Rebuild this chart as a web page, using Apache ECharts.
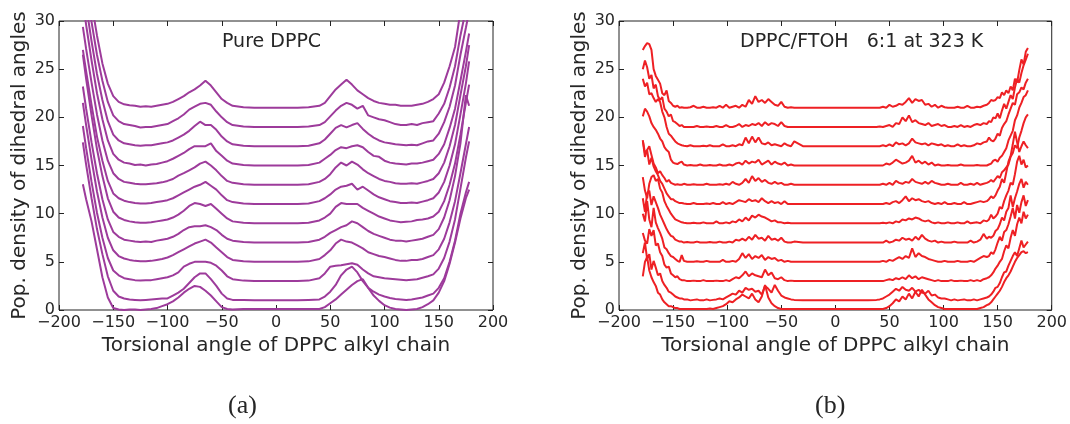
<!DOCTYPE html>
<html><head><meta charset="utf-8">
<script src="https://cdn.jsdelivr.net/npm/echarts@6/dist/echarts.min.js"></script>
<style>html,body{margin:0;padding:0;background:#fff}#c{width:1070px;height:424px}</style>
</head><body><div id="c"></div>
<script>
// ---------- (a) Pure DPPC: torsion angle grid (degrees) ----------
const angles = [-178,-175,-170,-165,-160,-155,-150,-145,-140,-135,-130,-125,-120,-115,-110,-105,-100,-95,-90,-85,-80,-75,-70,-65,-60,-55,-50,-45,-40,-30,-20,-10,0,10,20,30,40,45,50,55,60,65,70,75,80,85,90,95,100,105,110,115,120,125,130,135,140,145,150,155,160,165,170,175,178];

// stacked population densities (as plotted)
const pure21 = [38,35.6,31.9,28.5,25.6,23.5,22.2,21.6,21.35, 21.25,21.2,21.1,21.15,21.1,21.2,21.3, 21.4,21.6,21.9,22.2,22.6,22.9,23.3,23.8,23.3,22.6,21.9,21.5,21.2, 21.05,21,21,21,21,21,21.05, 21.2,21.5,22.2,22.9,23.4,23.9,23.4,22.8,22.4,22,21.7,21.5,21.4, 21.3,21.3,21.2,21.2,21.2,21.3,21.4,21.6, 21.9,22.4,23.6,25.3,27.3,31,33.5,35];
const pure19 = [36,33.6,29.9,26.5,23.8,21.6,20.2,19.6,19.3, 19.2,19.1,18.95,19,19,19.1,19.2, 19.3,19.6,19.9,20.3,20.8,21.1,21.4,21.5,21.3,20.6,20,19.5,19.2, 19.05,19,19,19,19,19,19.05, 19.2,19.5,20.1,20.7,21.2,21.5,21.3,20.9,21.2,20.2,20,19.8,19.7, 19.5,19.3,19.2,19.2,19.3,19.2,19.4,19.5, 19.6,20.4,21.4,23.1,25.3,28.5,31.2,33];
const pure17 = [34,31.6,27.9,24.5,21.8,19.6,18.2,17.6,17.3, 17.2,17.1,17.05,17.1,17.1,17.2,17.3, 17.4,17.6,17.9,18.2,18.6,19.1,19.55,19.2,19.2,18.7,18,17.5,17.2, 17.05,17,17,17,17,17,17.05, 17.3,17.7,18.3,18.9,19.2,18.95,19.2,19.4,18.8,18.3,17.9,17.6,17.4, 17.3,17.2,17.15,17.1,17.15,17.1,17.3,17.5, 17.6,18.3,19.5,21.1,23.3,26.5,29.3,31];
const pure15 = [32,29.6,25.9,22.5,19.8,17.6,16.2,15.6,15.3, 15.2,15.05,15.1,15,15.1,15.15,15.3, 15.45,15.7,16,16.3,16.7,17,17,17,17.3,16.5,16,15.5,15.2, 15.05,15,15,15,15,15,15.05, 15.3,15.7,16.1,16.6,16.9,16.8,17,17.1,16.9,16.4,16,15.9,15.5, 15.3,15.2,15.15,15.1,15.2,15.2,15.3,15.45, 15.6,16.2,17.2,18.9,20.9,23.8,26.8,28.7];
const pure13 = [29.4,27.1,23.6,20.3,17.6,15.5,14.2,13.6,13.3, 13.2,13.1,13.05,13.05,13.1,13.15,13.25, 13.4,13.6,13.95,14.2,14.5,14.8,15.2,15.4,15,14.5,13.9,13.4,13.2, 13.05,13,13,13,13,13,13.05, 13.3,13.6,14.1,14.8,15.3,15,15.4,15.1,14.6,14.2,13.9,13.6,13.4, 13.3,13.15,13.1,13.1,13.15,13.1,13.25,13.4, 13.6,14.2,15.3,17,19.2,22.3,25.3,27.5];
const pure11 = [27,24.8,21.3,18,15.5,13.4,12.1,11.6,11.35, 11.2,11.1,11.05,11.05,11.1,11.2,11.3, 11.4,11.6,11.9,12.2,12.5,12.8,13,13.3,12.9,12.5,11.9,11.4,11.2, 11.05,11,11,11,11,11,11.05, 11.3,11.6,12,12.5,12.8,12.9,13.1,12.5,12.8,12.4,12,11.7,11.5, 11.3,11.2,11.1,11.1,11.15,11.1,11.25,11.4, 11.6,12.2,13.3,15,17.2,20.3,23.5,25.8];
const pure9 = [26.5,24,20.2,16.7,13.9,11.6,10.2,9.6,9.35, 9.2,9.1,9.05,9.05,9.1,9.2,9.3, 9.4,9.6,9.9,10.3,10.8,11.1,11,10.8,11,10.5,10,9.5,9.2, 9.05,9,9,9,9,9,9.05, 9.3,9.6,10,10.7,11.1,11,11,11,10.6,10.3,10,9.7,9.5, 9.3,9.2,9.1,9.15,9.2,9.35,9.4,9.5, 9.7,10.2,11.3,13,15.2,18.2,21.5,23.4];
const pure7 = [23.2,20.9,17.4,14.2,11.5,9.4,8.1,7.6,7.3, 7.2,7.1,7.05,7.1,7.05,7.2,7.3, 7.4,7.6,7.9,8.3,8.6,8.7,8.7,8.8,8.6,8.3,7.8,7.4,7.2, 7.05,7,7,7,7,7,7.05, 7.3,7.6,8,8.3,8.6,8.8,9.2,9,8.6,8.2,7.9,7.7,7.5, 7.3,7.2,7.2,7.1,7.2,7.3,7.4,7.6, 7.8,8.4,9.6,11.4,13.9,17.3,22.3,21.2];
const pure5 = [21.5,19.2,15.6,12.3,9.6,7.5,6.2,5.6,5.35, 5.2,5.1,5.05,5.05,5.1,5.2,5.3, 5.45,5.7,6,6.3,6.6,6.9,7.1,7.3,7,6.5,6,5.5,5.2, 5.05,5,5,5,5,5,5.05, 5.3,5.7,6.2,6.9,7.3,7.1,7,6.7,6.4,6,5.8,5.6,5.5, 5.35,5.2,5.1,5.1,5.2,5.2,5.3,5.5, 5.7,6.3,7.4,9.1,11.3,14.2,17.2,19];
const pure3 = [19.1,16.8,13.3,10.1,7.5,5.4,4.1,3.6,3.3, 3.2,3.1,3.05,3.1,3.1,3.2,3.3, 3.4,3.6,3.9,4.5,4.8,5,5,5,4.9,4.6,4.1,3.5,3.2, 3.05,3,3,3,3,3,3.05, 3.3,3.8,4.5,4.6,4.65,4.75,4.85,4.7,4.2,3.8,3.5,3.4,3.3, 3.25,3.2,3.15,3.1,3.15,3.2,3.35,3.5, 3.7,4.3,5.4,7.1,9.4,12.6,15.8,17.5];
const pure1 = [17.4,15.1,11.6,8.4,5.8,3.5,2,1.4,1.2, 1.1,1.05,1,1.05,1.1,1.15,1.2, 1.2,1.5,1.8,2.2,2.8,3.4,3.8,3.8,3.2,2.5,1.7,1.2,1.05, 1.05,1,1,1,1,1,1.05, 1.1,1.4,1.9,2.6,3.6,4.2,4.5,3.9,3,2.3,1.9,1.6,1.4, 1.25,1.15,1.1,1.05,1.1,1.2,1.3,1.5, 1.7,2.3,3.3,5,7.2,10,12.2,13.3];
const pure0 = [13.05,11.5,9.2,6.3,3.4,1.3,0.2,0.05,0, 0.05,0.05,0,0.05,0.1,0.2,0.4, 0.6,0.9,1.3,1.8,2.2,2.5,2.4,2,1.5,0.9,0.3,0.1,0.05, 0.1,0.1,0.1,0.1,0.1,0.1,0.1, 0.1,0.3,0.7,1.1,1.6,2.1,2.6,3,3.2,2.3,1.5,0.95,0.5, 0.25,0.1,0.05,0,0.05,0.1,0.3,0.6, 1,1.8,3,4.8,7,9.5,11.6,12.5];

// ---------- (b) DPPC/FTOH 6:1 at 323 K: finer angle grid ----------
const mixAngles = [-178,-176,-174,-172,-170,-168,-166,-164,-162,-160,-158,-156,-154,-152,-150,-148,-146,-144,-142,-140, -137,-134,-131,-128,-125,-122,-119,-116,-113,-110,-107,-104,-101,-98,-95,-92,-89,-86,-83,-80,-77,-74,-71,-68,-65,-62,-59,-56,-53,-50,-47,-44,-41,-38, -30,-20,-10,0,10,20,30, 38,41,44,47,50,53,56,59,62,65,68,71,74,77,80,83,86,89,92,95,98,101,104,107,110,113,116,119,122,125,128,131,134,137, 140,142,144,146,148,150,152,154,156,158,160,162,164,166,168,170,172,174,176,178];
// vertical offsets of the stacked curves
const mixOffsets = [21,19,17,15,13,11,9,7,5,3,1,0.1];
// densities above each curve's offset
const mix21 = [6.0,6.4,6.7,6.6,6.0,4.0,3.3,2.9,2.5,1.5,1.3,1.8,0.7,0.5,0.2,0.1,0.2,0,0.05,0, 0,0.05,0.2,0,0,0.1,0,0,0.05,0,0.2,0,0.3,0,0.1,0.2,0,0.3,0.1,0.8,0.4,1.2,0.6,0.8,0.5,0.9,0.6,0.3,0.2,0.6,0.1,0,0.05,0, 0,0,0,0,0,0,0, 0,0,0.1,0,0.3,0.1,0.2,0.4,0.3,0.6,1.0,0.5,0.9,0.7,0.8,0.3,0.4,0.1,0.3,0,0.2,0.05,0,0,0,0.1,0,0,0.2,0,0,0.1,0.05,0.2, 0.3,0.5,0.8,0.7,0.8,1.1,1.0,1.6,1.3,1.8,1.5,2.2,1.8,3.0,2.6,3.9,5.0,4.5,5.8,6.2];
const mix19 = [6.0,6.9,6.2,5.0,5.4,4.0,4.4,3.2,2.8,3.1,1.9,1.6,1.1,1.3,0.6,0.5,0.3,0.1,0.2,0, 0,0,0,0.1,0,0,0.05,0,0,0.1,0,0,0.2,0,0,0.1,0.3,0,0.2,0.1,0.3,0.2,0.4,0.1,0.5,0.2,0.4,0.3,0.1,0.5,0.1,0,0,0, 0,0,0,0,0,0,0, 0,0.05,0,0.1,0.2,0,0.4,0.3,1.0,0.6,1.2,0.5,0.7,0.4,0.3,0.2,0.4,0.1,0.2,0.3,0.1,0.2,0,0,0.1,0,0.2,0,0.1,0,0.2,0.3,0.2,0.4, 0.3,0.6,0.5,1.0,0.9,1.4,0.9,1.7,2.4,1.9,2.6,3.3,2.9,4.1,5.0,4.6,5.6,6.4,7.0,7.6];
const mix17 = [7.0,6.2,6.6,5.4,5.5,5.0,4.6,4.9,4.6,3.6,3.0,2.0,1.3,1.1,0.8,0.5,0.3,0.2,0.1,0.05, 0,0.1,0,0,0,0.05,0,0.1,0,0,0,0.2,0,0,0.1,0,0.2,0.1,0.9,0.3,1.0,0.4,0.9,0.3,0.2,0.4,0.1,0.2,0.1,0,0.3,0.1,0,0.5, 0,0,0,0,0,0,0, 0,0,0.1,0,0.2,0,0.4,0.2,0.3,0.1,0.3,0.8,0.4,0.3,0.2,0.3,0.1,0.3,0.2,0.1,0.2,0,0.1,0,0,0.2,0,0.1,0,0,0.1,0.3,0.2,0.4, 0.5,0.9,0.6,0.5,0.8,1.3,1.1,1.9,2.3,2.6,3.3,3.9,4.5,4.3,5.4,5.6,6.1,5.9,6.6,7.0];
const mix15 = [5.1,5.9,5.6,5.1,4.4,4.0,3.7,3.3,2.8,2.5,1.9,1.6,1.4,0.6,0.3,0.2,0.15,0.3,0.4,0.1, 0,0.05,0,0,0.1,0,0,0.05,0,0,0.1,0,0,0.1,0,0.2,0.3,0.1,0.5,0.2,0.4,0.3,0.6,0.1,0.3,0.5,0.1,0.4,0.2,0.1,0.3,0,0.1,0, 0,0,0,0,0,0,0, 0,0,0,0.2,0.1,0.3,0.6,0.4,0.2,0.3,0.5,1.0,0.3,0.5,0.2,0.4,0.1,0.3,0,0.1,0,0,0.05,0,0,0,0.1,0,0,0,0,0.05,0,0, 0,0.1,0.2,0.5,0.6,0.4,0.8,1.0,1.4,1.8,2.6,3.1,3.6,4.7,5.2,6.0,6.5,7.1,7.3,7.8];
const mix13 = [4.6,2.9,3.6,4.0,3.1,2.2,1.8,1.2,1.4,1.0,0.7,0.3,0.5,0.2,0.1,0,0.05,0,0,0.1, 0,0,0.05,0,0,0,0.1,0,0,0,0.05,0,0.1,0,0.3,0.1,0,0.2,0.6,0.2,0.9,0.4,0.7,0.3,0.5,0.2,0.1,0.3,0.1,0.2,0,0,0.1,0, 0,0,0,0,0,0,0, 0,0,0.1,0,0.2,0,0.4,0.2,0.1,0.3,0.2,0.6,0.3,0.2,0.1,0.3,0.1,0.4,0.2,0.1,0,0,0.1,0,0,0,0.2,0,0,0.1,0,0.2,0,0.1, 0.2,0.3,0.5,0.3,0.6,0.9,0.7,1.3,1.5,1.8,2.1,2.9,3.3,4.1,3.8,4.9,5.6,6.4,7.0,7.3];
const mix11 = [6.6,5.3,5.6,4.1,4.8,3.9,3.4,3.0,2.4,2.1,1.6,1.1,0.8,0.5,0.5,0.3,0.2,0.1,0.1,0.05, 0,0,0.1,0,0,0,0.05,0,0.1,0,0,0.2,0,0.1,0,0.2,0.4,0.3,0.2,0.5,0.3,0.4,0.2,0.6,0.3,0.1,0.3,0.1,0.2,0,0.3,0,0,0, 0,0,0,0,0,0,0, 0,0,0,0.1,0,0.2,0.3,0.1,0.4,0.8,0.3,0.6,0.4,0.5,0.3,0.2,0.3,0.1,0,0.1,0,0.2,0,0,0.1,0,0,0.2,0,0,0.1,0.2,0.3,0.2, 0.3,0.5,0.8,0.6,0.9,1.4,1.8,2.6,2.2,3.3,4.4,5.0,6.2,7.5,6.4,5.4,6.0,6.5,6.1,5.8];
const mix9 = [4.8,3.4,2.6,4.1,4.8,5.0,4.4,4.6,3.6,3.2,2.3,1.8,1.4,1.0,0.7,0.4,0.3,0.2,0.1,0.05, 0,0,0.05,0,0,0.1,0,0,0,0.2,0,0,0.1,0,0.2,0.1,0.4,0.2,0.6,0.3,0.8,0.6,0.9,0.7,0.6,0.4,0.2,0.3,0.1,0.1,0,0.05,0,0, 0,0,0,0,0,0,0, 0,0,0.05,0,0.1,0,0.2,0.1,0.4,0.3,0.5,0.4,0.6,0.5,0.3,0.2,0.3,0.1,0,0.1,0,0,0.1,0,0,0.1,0,0,0.2,0,0.05,0.1,0,0.3, 0.2,0.4,0.9,0.5,0.7,1.0,1.7,1.5,2.3,2.9,3.4,4.2,4.0,5.1,6.4,7.0,6.1,6.6,5.8,6.0];
const mix7 = [4.6,3.2,5.1,5.4,3.9,4.8,4.2,3.6,2.9,2.4,1.9,1.4,1.0,0.7,0.6,0.3,0.2,0.1,0.1,0, 0.05,0,0,0.1,0,0,0,0.05,0,0,0.1,0,0,0.1,0,0.3,0.2,0.4,0.2,0.6,0.3,0.8,0.4,0.5,0.2,0.7,0.3,0.4,0.2,0.5,0.1,0,0,0.1, 0,0,0,0,0,0,0, 0,0,0,0.2,0,0.1,0.3,0.2,0.5,0.3,0.4,0.2,0.6,0.3,0.8,0.4,0.2,0.1,0.2,0,0.1,0,0,0,0.1,0,0,0,0,0.2,0,0.1,0.3,0.9, 0.4,0.6,0.5,0.7,1.2,1.4,1.9,2.6,2.3,3.2,3.6,4.9,3.7,4.6,5.3,6.1,6.6,5.7,6.3,6.0];
const mix5 = [5.0,4.2,6.3,4.4,3.6,5.6,4.1,3.5,3.0,2.4,1.5,1.3,0.9,0.6,0.5,0.3,0.1,0,0.7,0.1, 0,0,0,0.05,0,0,0.1,0,0,0,0,0.2,0,0,0.1,0,0.3,0.9,0.4,0.8,0.3,0.6,0.4,0.7,0.2,0.5,0.3,0.4,0.1,0.2,0,0.1,0,0, 0,0,0,0,0,0,0, 0,0,0.1,0,0.2,0.1,0.3,0.5,0.3,0.6,0.4,1.4,0.5,0.9,0.6,0.5,0.3,0.2,0.1,0,0,0.1,0,0,0,0.1,0,0,0,0.1,0,0.2,0.4,0.6, 0.5,0.6,1.0,0.8,1.3,2.0,2.6,2.2,3.1,3.3,3.9,4.7,5.6,4.5,5.9,5.1,6.2,6.9,5.8,6.4];
const mix3 = [5.0,4.2,3.9,5.4,4.7,5.3,3.7,3.9,3.0,2.6,1.7,1.4,1.5,0.8,0.6,0.4,0.5,0.2,0.1,0.1, 0,0,0.05,0,0,0.1,0,0,0,0.05,0,0,0.1,0,0.2,0.4,0.3,0.6,1.0,0.5,0.8,0.6,0.5,0.4,1.2,0.6,0.9,0.3,0.2,0.4,0.1,0,0.05,0, 0,0,0,0,0,0,0, 0,0,0,0.1,0.2,0.1,0.3,0.2,0.4,0.2,0.6,0.3,0.5,0.2,0.4,0.3,0.2,0.1,0,0.1,0,0,0,0.1,0,0,0.05,0,0,0.1,0,0.1,0,0.2, 0.3,0.4,0.6,0.9,1.3,1.6,2.0,2.3,3.1,3.7,3.4,4.5,5.3,4.7,5.9,6.6,6.0,7.2,6.5,6.9];
const mix1 = [4.9,6.0,4.3,4.8,3.2,4.1,3.4,2.6,2.8,2.0,1.6,1.3,0.9,0.8,0.6,0.4,0.3,0.2,0.2,0.1, 0.1,0,0.05,0.1,0,0,0.1,0,0.05,0.1,0.2,0.1,0.3,0.5,0.7,0.6,1.0,0.8,1.3,1.1,1.2,0.9,1.0,0.6,1.5,1.2,0.8,1.6,1.0,0.5,0.3,0.2,0.1,0.05, 0,0,0,0,0,0,0, 0.05,0.1,0.2,0.4,0.6,0.9,1.2,1.0,1.4,1.1,1.0,1.3,0.9,1.1,0.8,0.7,1.0,0.5,0.6,0.3,0.2,0.2,0.1,0,0.1,0,0.05,0.1,0,0,0.1,0,0.1,0.2, 0.3,0.4,0.6,0.9,1.3,1.4,1.8,2.4,2.9,3.0,3.6,4.1,4.6,5.0,4.6,5.4,6.2,5.5,5.8,6.1];
const mix0 = [3.4,4.9,5.4,4.0,3.3,2.8,2.4,1.7,1.5,1.0,0.7,0.5,0.3,0.3,0.2,0.1,0.1,0,0,0, 0,0,0,0,0,0,0,0.05,0,0.1,0.2,0.3,0.5,0.8,0.7,1.0,1.2,1.5,1.3,1.1,1.6,1.0,0.7,1.3,2.5,1.2,0.6,0.3,0.1,0,0,0,0,0, 0,0,0,0,0,0,0, 0,0,0,0.1,0.3,0.6,1.0,0.8,1.3,1.0,1.6,1.1,1.8,1.3,2.0,1.5,1.0,0.7,0.4,0.2,0.1,0,0,0,0,0,0,0,0,0,0,0,0.1,0.2, 0.4,0.5,0.7,1.0,1.3,1.6,1.9,2.3,2.8,3.2,3.5,3.9,4.4,4.9,5.3,5.6,5.9,6.0,5.8,5.9];

const pureCurves = [pure21,pure19,pure17,pure15,pure13,pure11,pure9,pure7,pure5,pure3,pure1,pure0];
const mixCurves = [mix21,mix19,mix17,mix15,mix13,mix11,mix9,mix7,mix5,mix3,mix1,mix0];

// axis ranges / tick steps
const xRange = [-200, 200], xStep = 50;
const yRange = [0, 30], yStep = 5;

const bad = [];
pureCurves.forEach((c,i)=>{ if(c.length!==angles.length) bad.push('pure'+i+':'+c.length); });
mixCurves.forEach((c,i)=>{ if(c.length!==mixAngles.length) bad.push('mix'+i+':'+c.length); });
if (bad.length) throw new Error('length mismatch ' + bad.join(','));

const FONT = 'DejaVu Sans';
const TXT = '#262626';
const minus = v => String(v).replace('-', '\u2212');

function xAx(g, pos, withLabel) {
  return {
    gridIndex: g, type: 'value', position: pos, min: xRange[0], max: xRange[1], interval: xStep,
    axisLine: { show: false, onZero: false },
    axisTick: { show: true, inside: true, length: 5, lineStyle: { color: '#222', width: 1 } },
    axisLabel: { show: withLabel, fontSize: 16, color: TXT, margin: 5, fontFamily: FONT, formatter: minus },
    splitLine: { show: false },
    name: withLabel ? 'Torsional angle of DPPC alkyl chain' : '',
    nameLocation: 'middle', nameGap: 24,
    nameTextStyle: { fontSize: 20, color: TXT, fontFamily: FONT }
  };
}
function yAx(g, pos, withLabel) {
  return {
    gridIndex: g, type: 'value', position: pos, min: yRange[0], max: yRange[1], interval: yStep,
    axisLine: { show: false, onZero: false },
    axisTick: { show: true, inside: true, length: 5, lineStyle: { color: '#222', width: 1 } },
    axisLabel: { show: withLabel, fontSize: 16, color: TXT, margin: 4, fontFamily: FONT },
    splitLine: { show: false },
    name: withLabel ? 'Pop. density of dihedral angles' : '',
    nameLocation: 'middle', nameGap: 29,
    nameTextStyle: { fontSize: 20, color: TXT, fontFamily: FONT }
  };
}

function lineSeries(xs, ys, axis, color) {
  return {
    type: 'line', xAxisIndex: axis, yAxisIndex: axis,
    data: xs.map((a, i) => [a, ys[i]]),
    symbol: 'none', showSymbol: false, silent: true, clip: true,
    lineStyle: { width: 2, color: color }, itemStyle: { color: color }
  };
}

const series = [];
pureCurves.forEach(c => series.push(lineSeries(angles, c, 0, '#9d3b9b')));
mixCurves.forEach((c, k) => series.push(lineSeries(mixAngles, c.map(v => v + mixOffsets[k]), 2, '#ee2024')));

const chart = echarts.init(document.getElementById('c'), null, { renderer: 'canvas' });
chart.setOption({
  animation: false,
  backgroundColor: '#fff',
  grid: [
    { left: 59, top: 21, width: 434, height: 289, show: true, borderColor: '#222', borderWidth: 1, backgroundColor: 'transparent' },
    { left: 619, top: 21, width: 434, height: 289, show: true, borderColor: '#222', borderWidth: 1, backgroundColor: 'transparent' }
  ],
  xAxis: [xAx(0, 'bottom', true), xAx(0, 'top', false), xAx(1, 'bottom', true), xAx(1, 'top', false)],
  yAxis: [yAx(0, 'left', true), yAx(0, 'right', false), yAx(1, 'left', true), yAx(1, 'right', false)],
  series: series,
  graphic: [
    { type: 'text', left: 222, top: 33, style: { text: 'Pure DPPC', fontSize: 19, fontFamily: FONT, fill: TXT } },
    { type: 'text', left: 740, top: 33, style: { text: 'DPPC/FTOH   6:1 at 323 K', fontSize: 19, fontFamily: FONT, fill: TXT } },
    { type: 'text', left: 228, top: 393, style: { text: '(a)', fontSize: 26, fontFamily: 'Liberation Serif', fill: TXT } },
    { type: 'text', left: 815, top: 393, style: { text: '(b)', fontSize: 26, fontFamily: 'Liberation Serif', fill: TXT } }
  ]
});
</script>
</body></html>
